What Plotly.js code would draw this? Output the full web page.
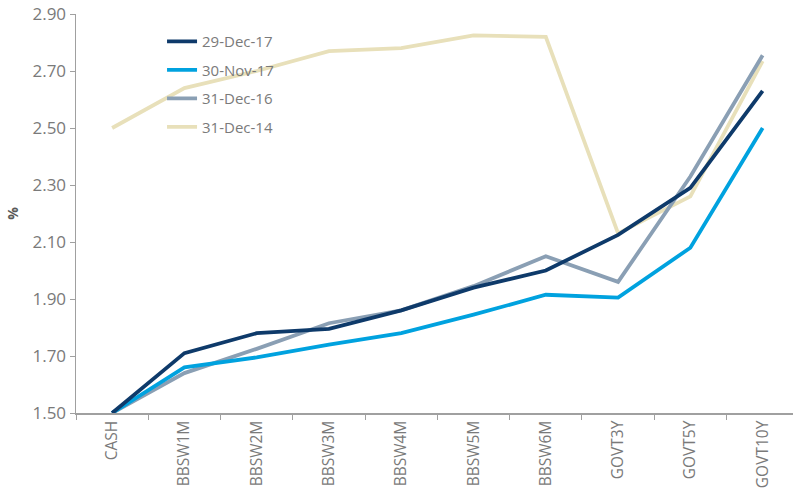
<!DOCTYPE html>
<html>
<head>
<meta charset="utf-8">
<script src="https://cdn.plot.ly/plotly-3.0.1.min.js"></script>
<style>html,body{margin:0;padding:0;background:#fff;}#chart{width:793px;height:490px;}</style>
</head>
<body>
<div id="chart"></div>
<script>
const categories = ["CASH","BBSW1M","BBSW2M","BBSW3M","BBSW4M","BBSW5M","BBSW6M","GOVT3Y","GOVT5Y","GOVT10Y"];
const seriesNames = ["29-Dec-17","30-Nov-17","31-Dec-16","31-Dec-14"];
const dec17 = [1.50,1.71,1.78,1.795,1.86,1.94,2.00,2.125,2.29,2.63];
const nov17 = [1.50,1.66,1.695,1.74,1.78,1.845,1.915,1.905,2.08,2.50];
const dec16 = [1.50,1.64,1.725,1.815,1.86,1.945,2.05,1.96,2.33,2.755];
const dec14 = [2.50,2.64,2.70,2.77,2.78,2.825,2.82,2.13,2.26,2.735];
const yTicks = [1.50,1.70,1.90,2.10,2.30,2.50,2.70,2.90];

const colors = ["#0E3A6A","#00A2DF","#8A9FB4","#E8E0BA"];
const allSeries = [dec17, nov17, dec16, dec14];
const order = [3,2,1,0];
const traces = [];
for (let i = 0; i < 4; i++) {
  traces.push({
    x: categories, y: allSeries[i], type: "scatter", mode: "lines",
    name: seriesNames[i], legendgroup: "g" + i, legendrank: i + 1,
    line: {color: colors[i], width: 3.8}
  });
}
const drawn = order.map(i => traces[i]);
const gray = "#7A7A7A";
const layout = {
  width: 793, height: 490,
  margin: {l: 76, r: 0, t: 14, b: 77},
  paper_bgcolor: "#fff", plot_bgcolor: "#fff",
  font: {family: "Open Sans, sans-serif", size: 13, color: gray},
  showlegend: true,
  legend: {x: 0.12, y: 0.972, xanchor: "left", yanchor: "top", traceorder: "grouped",
           tracegroupgap: 6, font: {size: 15, color: gray}, bgcolor: "rgba(0,0,0,0)"},
  xaxis: {type: "category", range: [-0.5, 9.42], tickson: "boundaries", ticks: "outside",
          ticklen: 5, tickcolor: "#A0A0A0", showline: true, linecolor: "#A0A0A0", linewidth: 1.5,
          showgrid: false, tickangle: -90, tickfont: {size: 15.5, color: gray}, zeroline: false},
  yaxis: {range: [1.5, 2.9], tickvals: yTicks, ticktext: yTicks.map(v => v.toFixed(2)),
          ticks: "outside", ticklen: 5, tickcolor: "#A0A0A0", showline: true, linecolor: "#A0A0A0",
          linewidth: 1.5, showgrid: false, zeroline: false, tickfont: {size: 17, color: gray},
          title: {text: "<b>%</b>", font: {size: 14, color: "#595959"}, standoff: 10}}
};
Plotly.newPlot("chart", drawn, layout, {displayModeBar: false, staticPlot: true});
</script>
</body>
</html>
